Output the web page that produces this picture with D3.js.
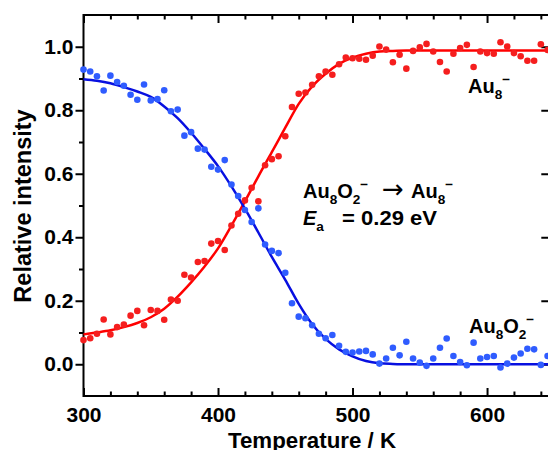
<!DOCTYPE html>
<html><head><meta charset="utf-8">
<script src="https://cdn.jsdelivr.net/npm/d3@7"></script>
<style>
body{margin:0;background:#fff}
svg{display:block}
text{font-family:"Liberation Sans",Arial,Helvetica,sans-serif;font-weight:bold;fill:#000}
</style>
</head><body>
<svg id="c" width="548" height="450"></svg>
<script>
// ---- data ----
const temperatures = [300,305,310,315,320,325,330,335,340,345,350,355,360,365,370,375,380,385,390,395,
  400,405,410,415,420,425,430,435,440,445,450,455,460,465,470,475,480,485,490,495,
  500,505,510,515,520,525,530,535,540,545,550,555,560,565,570,575,580,585,590,595,
  600,605,610,615,620,625,630,635,640,645];
const au8 = [0.076,0.082,0.096,0.141,0.094,0.117,0.125,0.153,0.168,0.123,0.171,0.168,0.140,0.204,0.200,0.282,0.273,0.322,0.325,0.380,
  0.388,0.360,0.437,0.474,0.516,0.556,0.513,0.627,0.646,0.655,0.718,0.810,0.852,0.856,0.880,0.907,0.922,0.912,0.945,0.966,
  0.964,0.962,0.959,0.972,1.001,0.991,0.951,0.975,0.931,0.987,0.998,1.009,0.985,0.952,0.922,0.978,0.996,1.006,0.936,0.985,
  0.980,0.978,1.014,1.001,0.980,0.970,0.956,0.956,1.008,0.990];
const au8o2 = [0.928,0.922,0.907,0.862,0.909,0.889,0.877,0.849,0.833,0.881,0.831,0.835,0.863,0.797,0.802,0.720,0.731,0.679,0.676,0.622,
  0.613,0.643,0.566,0.530,0.486,0.448,0.491,0.377,0.357,0.350,0.288,0.192,0.150,0.145,0.123,0.096,0.082,0.092,0.058,0.039,
  0.037,0.040,0.042,0.031,0.002,0.018,0.052,0.028,0.071,0.018,0.005,-0.005,0.018,0.052,0.081,0.026,0.007,-0.003,0.068,0.018,
  0.023,0.026,-0.010,0.002,0.021,0.034,0.049,0.047,-0.002,0.026];
const fitTemperatures = [300,310,320,330,340,350,360,370,380,390,400,410,420,430,440,450,460,470,480,490,
  500,510,520,530,540,550,560,570,580,590,600,610,620,630,640,650];
const au8Fit = [0.094,0.100,0.107,0.117,0.130,0.148,0.175,0.213,0.258,0.308,0.365,0.437,0.513,0.592,0.668,0.745,0.820,0.875,0.915,0.946,
  0.966,0.978,0.985,0.987,0.988,0.988,0.988,0.988,0.988,0.988,0.988,0.988,0.988,0.988,0.988,0.988];
const au8o2Fit = [0.898,0.893,0.885,0.873,0.859,0.842,0.812,0.775,0.729,0.678,0.624,0.560,0.490,0.415,0.338,0.266,0.190,0.126,0.080,0.047,
  0.025,0.010,0.003,0.001,0,0,0,0,0,0,0,0,0,0,0,0];
const xMajorTicks = [300,400,500,600];
const xMinorTicks = [320,340,360,380,420,440,460,480,520,540,560,580,620,640];
const yMajorTicks = [0.0,0.2,0.4,0.6,0.8,1.0];
const yMinorTicks = [0.1,0.3,0.5,0.7,0.9];
const xDomain = [300,650];
const yDomain = [-0.1,1.1];

// ---- layout ----
const svg = d3.select("#c");
const L = 83.5, R = 554.3, T = 15, B = 396;
const x = d3.scaleLinear().domain(xDomain).range([L, R]);
const y = d3.scaleLinear().domain(yDomain).range([B, T]);
const RED = "#ff0000", REDPT = "#f51e1e", BLUE = "#0810e0", BLUEPT = "#2f5cff";

function styleAxis(g){
  g.select(".domain").remove();
  g.selectAll(".tick line").attr("stroke","#000").attr("stroke-width",2);
  g.selectAll(".tick text").style("font-size","21px").style("font-weight","bold")
    .style("font-family",'"Liberation Sans",Arial,sans-serif').attr("fill","#000");
}
// bottom
svg.append("g").attr("transform",`translate(0,${B})`)
  .call(d3.axisBottom(x).tickValues(xMajorTicks).tickSize(-8).tickPadding(11).tickFormat(d3.format("d"))).call(styleAxis);
svg.append("g").attr("transform",`translate(0,${B})`)
  .call(d3.axisBottom(x).tickValues(xMinorTicks).tickSize(-4.5).tickFormat("")).call(styleAxis);
// top
svg.append("g").attr("transform",`translate(0,${T})`)
  .call(d3.axisTop(x).tickValues(xMajorTicks).tickSize(-8).tickFormat("")).call(styleAxis);
svg.append("g").attr("transform",`translate(0,${T})`)
  .call(d3.axisTop(x).tickValues(xMinorTicks).tickSize(-4.5).tickFormat("")).call(styleAxis);
// left
svg.append("g").attr("transform",`translate(${L},0)`)
  .call(d3.axisLeft(y).tickValues(yMajorTicks).tickSize(8).tickPadding(2).tickFormat(d3.format(".1f"))).call(styleAxis);
svg.append("g").attr("transform",`translate(${L},0)`)
  .call(d3.axisLeft(y).tickValues(yMinorTicks).tickSize(4.5).tickFormat("")).call(styleAxis);
// right
svg.append("g").attr("transform",`translate(${R},0)`)
  .call(d3.axisRight(y).tickValues(yMajorTicks).tickSize(-13).tickFormat("")).call(styleAxis);
svg.append("g").attr("transform",`translate(${R},0)`)
  .call(d3.axisRight(y).tickValues(yMinorTicks).tickSize(-6).tickFormat("")).call(styleAxis);

// frame
svg.append("rect").attr("x",L).attr("y",T).attr("width",R-L).attr("height",B-T)
  .attr("fill","none").attr("stroke","#000").attr("stroke-width",2);

// fit lines
const line = d3.line().x(d=>x(d[0])).y(d=>y(d[1])).curve(d3.curveMonotoneX);
svg.append("path").datum(fitTemperatures.map((t,i)=>[t,au8Fit[i]]))
  .attr("d",line).attr("fill","none").attr("stroke",RED).attr("stroke-width",2.5);
svg.append("path").datum(fitTemperatures.map((t,i)=>[t,au8o2Fit[i]]))
  .attr("d",line).attr("fill","none").attr("stroke",BLUE).attr("stroke-width",2.5);

// points
svg.append("g").selectAll("circle").data(temperatures.map((t,i)=>[t,au8[i]])).join("circle")
  .attr("cx",d=>x(d[0])).attr("cy",d=>y(d[1])).attr("r",3.3).attr("fill",REDPT);
svg.append("g").selectAll("circle").data(temperatures.map((t,i)=>[t,au8o2[i]])).join("circle")
  .attr("cx",d=>x(d[0])).attr("cy",d=>y(d[1])).attr("r",3.3).attr("fill",BLUEPT);

// axis titles
svg.append("text").attr("x",312).attr("y",448).attr("text-anchor","middle")
  .style("font-size","22.3px").text("Temperature / K");
svg.append("text").attr("transform","translate(31,206) rotate(-90)").attr("text-anchor","middle")
  .style("font-size","23.5px").text("Relative intensity");

// annotations: parts [text, kind, absoluteX, fontFamily, fontSize]
function rich(xp, yp, parts, size){
  const t = svg.append("text").attr("x",xp).attr("y",yp).style("font-size",size+"px");
  let shift = 0;
  parts.forEach(([s,k,ax,ff,fsz])=>{
    let target = 0, fs = size, st = "normal";
    if(k==="sub"){target = 6; fs = size*0.68;}
    else if(k==="sup"){target = -9; fs = size*0.68;}
    else if(k==="it"){st = "italic";}
    if(fsz) fs = fsz;
    const sp = t.append("tspan").attr("dy",target-shift).style("font-size",fs+"px").style("font-style",st).text(s);
    if(ax!==undefined && ax!==null) sp.attr("x",ax);
    if(ff) sp.style("font-family",ff).style("font-weight","normal");
    shift = target;
  });
  return t;
}
rich(468, 93, [["Au"],["8","sub"],["\u2212","sup"]], 20);
rich(469, 333, [["Au"],["8","sub"],["O"],["2","sub"],["\u2212","sup"]], 20);
rich(303, 198, [["Au"],["8","sub"],["O"],["2","sub"],["\u2212","sup"],
  ["\u2192","",382,'"DejaVu Sans",sans-serif',26],["Au","",411],["8","sub"],["\u2212","sup"]], 20);
rich(303, 225, [["E","it"],["a","sub"]], 20);
svg.append("text").attr("x",342).attr("y",225).style("font-size","20px")
  .attr("textLength",95).attr("lengthAdjust","spacingAndGlyphs").text("= 0.29 eV");
</script>
</body></html>
